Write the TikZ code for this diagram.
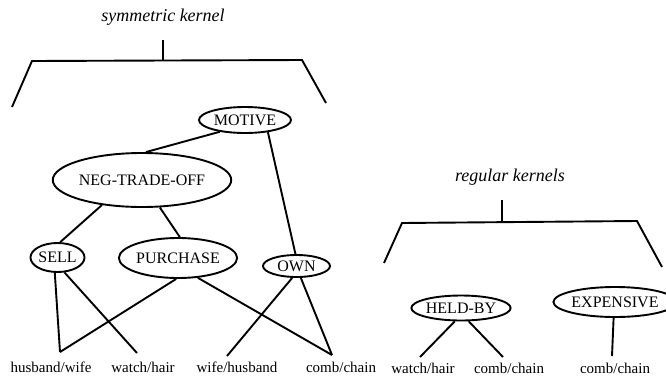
\documentclass[tikz,border=0pt]{standalone}
\usepackage{fontspec}
\setmainfont{Liberation Serif}
\usetikzlibrary{shapes.geometric}

\tikzset{
  concept/.style={ellipse, draw, line width=1.9pt, inner sep=0pt,
    font=\fontsize{16}{18}\selectfont},
  leaf/.style={inner sep=0pt, font=\fontsize{15}{17}\selectfont},
  kerneltitle/.style={inner sep=0pt, font=\fontsize{18}{20}\selectfont\itshape},
  link/.style={line width=1.9pt}
}

\begin{document}
\begin{tikzpicture}[x=1pt, y=-1pt]

    % Fix the page to the size of the picture
    \useasboundingbox (0,0) rectangle (666,378);

    % Bracket over the symmetric kernel
    \node[kerneltitle] (symtitle) at (163,17) {symmetric kernel};
    \coordinate (symtop) at (163,40);
    \coordinate (symmid) at (163,60.5);
    \coordinate (symleft) at (32,61);
    \coordinate (symright) at (302,60);
    \draw[link] (symtop) -- (symmid);
    \draw[link] (12,107) -- (symleft) -- (symright) -- (326,103);

    % Bracket over the regular kernels
    \node[kerneltitle] (regtitle) at (510,177) {regular kernels};
    \coordinate (regtop) at (502,200);
    \coordinate (regmid) at (502,222);
    \coordinate (regleft) at (402,223);
    \coordinate (regright) at (637,221);
    \draw[link] (regtop) -- (regmid);
    \draw[link] (384,263) -- (regleft) -- (regright) -- (662,267);

    % Concept nodes of the symmetric kernel
    \node[concept, minimum width=92, minimum height=26] (motive) at (245,120) {MOTIVE};
    \node[concept, minimum width=160, minimum height=54] (negtrade) at (142,180) {NEG-TRADE-OFF};
    \node[concept, minimum width=52, minimum height=29] (sell) at (57.5,257.5) {SELL};
    \node[concept, minimum width=98, minimum height=40] (purchase) at (178,258) {PURCHASE};
    \node[concept, minimum width=67, minimum height=22] (own) at (296.5,266) {OWN};

    % Concept nodes of the regular kernels
    \node[concept, minimum width=98, minimum height=25] (heldby) at (461,308) {HELD-BY};
    \node[concept, minimum width=96, minimum height=30] (expensive) at (615,302) {EXPENSIVE};

    % Leaves along the bottom
    \node[leaf] (husbwife) at (51,367) {husband/wife};
    \node[leaf] (watchhair) at (143,367) {watch/hair};
    \node[leaf] (wifehusb) at (237,367) {wife/husband};
    \node[leaf] (combchain) at (341,367) {comb/chain};
    \node[leaf] (watchhairb) at (423,368) {watch/hair};
    \node[leaf] (combchainb) at (509,368) {comb/chain};
    \node[leaf] (combchainc) at (615,368) {comb/chain};

    % Points where the lines meet the leaves
    \coordinate (husbwifetop) at (60,352);
    \coordinate (watchhairtop) at (137,353);
    \coordinate (wifehusbtop) at (227,356);
    \coordinate (combchaintop) at (332,355);
    \coordinate (watchhairbtop) at (420,357);
    \coordinate (combchainbtop) at (503,357);
    \coordinate (combchainctop) at (612,356);

    % Links inside the symmetric kernel
    \draw[link] (motive.205) -- (negtrade.82);
    \draw[link] (motive.-28) -- (own.95);
    \draw[link] (negtrade.212) -- (sell.80);
    \draw[link] (negtrade.303) -- (purchase.85);
    \draw[link] (sell.260) -- (husbwifetop);
    \draw[link] (sell.295) -- (watchhairtop);
    \draw[link] (purchase.265) -- (husbwifetop);
    \draw[link] (purchase.315) -- (combchaintop);
    \draw[link] (own.250) -- (wifehusbtop);
    \draw[link] (own.290) -- (combchaintop);

    % Links inside the regular kernels
    \draw[link] (heldby.245) -- (watchhairbtop);
    \draw[link] (heldby.300) -- (combchainbtop);
    \draw[link] (expensive.265) -- (combchainctop);

\end{tikzpicture}
\end{document}
